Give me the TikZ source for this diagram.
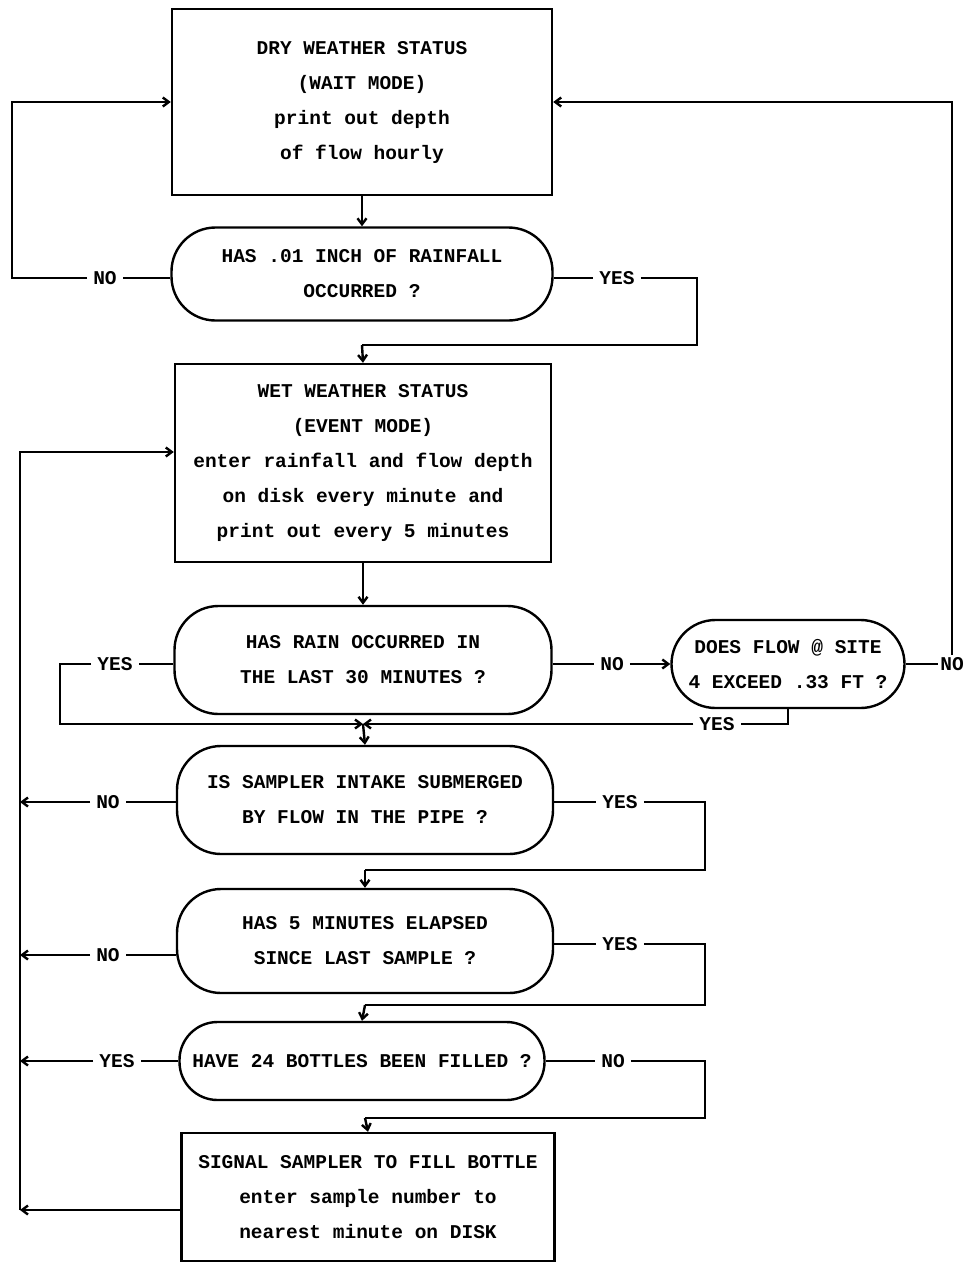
\documentclass[tikz,border=0pt]{standalone}
\usepackage{fontspec}
\setmonofont{Liberation Mono}
\usetikzlibrary{arrows.meta}
\begin{document}
\begin{tikzpicture}[x=1pt,y=-1pt,
  every node/.style={font=\ttfamily\bfseries\fontsize{19.5}{35}\selectfont, align=center},
  procbox/.style={draw, line width=2.4pt, inner sep=0pt},
  decbox/.style={draw, line width=2.4pt, inner sep=0pt, rounded corners=44pt},
  lbl/.style={inner sep=6pt},
  ln/.style={line width=2.4pt},
  arr/.style={line width=2.4pt, -{Straight Barb[length=6pt,width=9pt]}}]
\useasboundingbox (0,0) rectangle (967,1264);
% nodes
\node[procbox, minimum width=380pt, minimum height=186pt] (b1) at (362,102)
  {DRY WEATHER STATUS\\(WAIT MODE)\\print out depth\\of flow hourly};
\node[decbox, minimum width=381pt, minimum height=93pt] (o1) at (362,274)
  {HAS .01 INCH OF RAINFALL\\OCCURRED ?};
\node[procbox, minimum width=376pt, minimum height=198pt] (b2) at (363,463)
  {WET WEATHER STATUS\\(EVENT MODE)\\enter rainfall and flow depth\\on disk every minute and\\print out every 5 minutes};
\node[decbox, minimum width=377pt, minimum height=108pt] (o2) at (363,660)
  {HAS RAIN OCCURRED IN\\THE LAST 30 MINUTES ?};
\node[decbox, minimum width=233pt, minimum height=88pt] (o3) at (788,664)
  {DOES FLOW @ SITE\\4 EXCEED .33 FT ?};
\node[decbox, minimum width=376pt, minimum height=108pt] (o4) at (365,800)
  {IS SAMPLER INTAKE SUBMERGED\\BY FLOW IN THE PIPE ?};
\node[decbox, minimum width=376pt, minimum height=104pt] (o5) at (365,941)
  {HAS 5 MINUTES ELAPSED\\SINCE LAST SAMPLE ?};
\node[decbox, rounded corners=38pt, minimum width=365pt, minimum height=78pt] (o6) at (362,1061)
  {HAVE 24 BOTTLES BEEN FILLED ?};
\node[procbox, minimum width=373pt, minimum height=128pt] (b3) at (368,1197)
  {SIGNAL SAMPLER TO FILL BOTTLE\\enter sample number to\\nearest minute on DISK};
% labels
\node[lbl] (no1) at (105,278) {NO};
\node[lbl] (yes1) at (617,278) {YES};
\node[lbl] (yes2) at (115,664) {YES};
\node[lbl] (no2) at (612,664) {NO};
\node[lbl, inner sep=2pt] (no3) at (952,664) {NO};
\node[lbl] (yes3) at (717,724) {YES};
\node[lbl] (no4) at (108,802) {NO};
\node[lbl] (yes4) at (620,802) {YES};
\node[lbl] (no5) at (108,955) {NO};
\node[lbl] (yes5) at (620,944) {YES};
\node[lbl] (yes6) at (117,1061) {YES};
\node[lbl] (no6) at (613,1061) {NO};
% junction coordinates
\coordinate (j1) at (362,345);
\coordinate (jx) at (363,724);
\coordinate (j4) at (365,870);
\coordinate (j5) at (365,1005);
\coordinate (j6) at (365,1118);
\coordinate (lt) at (20,452);
\coordinate (lb) at (20,1210);
% connectors
\draw[arr] (b1) -- (o1);
\draw[ln] (o1.west |- no1) -- (no1);
\draw[arr] (no1.west) -- (12,278) |- (b1.west);
\draw[ln] (o1.east |- yes1) -- (yes1);
\draw[ln] (yes1.east) -- (697,278) |- (j1);
\draw[arr] (j1) -- (b2.north);
\draw[arr] (b2) -- (o2);
\draw[ln] (o2.west |- yes2) -- (yes2);
\draw[arr] (yes2.west) -- (60,664) |- (jx);
\draw[ln] (o2.east |- no2) -- (no2);
\draw[arr] (no2.east) -- (o3.west);
\draw[ln] (o3.east) -- (no3);
\draw[arr] (no3.north) |- (b1.east);
\draw[ln] (o3.south) |- (yes3.east);
\draw[arr] (yes3.west) -- (jx);
\draw[arr] (jx) -- (o4.north);
\draw[ln] (o4.west |- no4) -- (no4);
\draw[arr] (no4.west) -- (lt |- no4);
\draw[ln] (o4.east |- yes4) -- (yes4);
\draw[ln] (yes4.east) -- (705,802) |- (j4);
\draw[arr] (j4) -- (o5.north);
\draw[ln] (o5.west |- no5) -- (no5);
\draw[arr] (no5.west) -- (lt |- no5);
\draw[ln] (o5.east |- yes5) -- (yes5);
\draw[ln] (yes5.east) -- (705,944) |- (j5);
\draw[arr] (j5) -- (o6.north);
\draw[ln] (o6.west) -- (yes6);
\draw[arr] (yes6.west) -- (lt |- yes6);
\draw[ln] (o6.east) -- (no6);
\draw[ln] (no6.east) -- (705,1061) |- (j6);
\draw[arr] (j6) -- (b3.north);
\draw[arr] (b3.west |- lb) -- (lb);
\draw[arr] (lb) -- (lt) -- ([yshift=11pt]b2.west);
\end{tikzpicture}
\end{document}
